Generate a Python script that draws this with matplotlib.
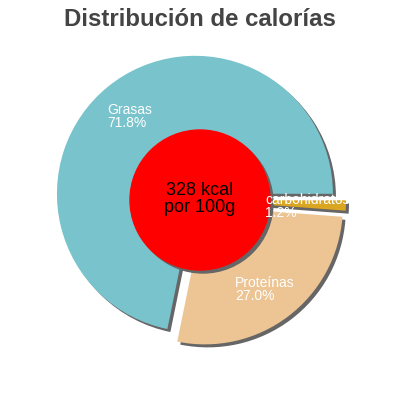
import matplotlib.pyplot as plt
from matplotlib.patches import Circle, Rectangle

plt.rcParams['font.family'] = ['Liberation Sans', 'DejaVu Sans']

# data
labels = ['Grasas', 'Proteínas', 'carbohidratos']
values = [71.8, 27.0, 1.2]
colors = ['#79c3cc', '#edc493', '#daa520']
kcal_text = '328 kcal\npor 100g'
title = 'Distribución de calorías'

fig = plt.figure(figsize=(4, 4), dpi=100)
ax = fig.add_axes([0, 0, 1, 1])

cx, cy = 200, 200
r = 138
explode = [8] * len(values)  # pie explode is in data units here

# shadow pie, shifted down-right
ax.pie(values, colors=['#666666'] * len(values), startangle=0, radius=r,
       center=(cx + 3, cy - 3), explode=explode, frame=True,
       wedgeprops={'linewidth': 0})
wedges, _ = ax.pie(values, colors=colors, startangle=0, radius=r,
                   center=(cx, cy), explode=explode, frame=True,
                   wedgeprops={'linewidth': 0})
ax.set_xlim(0, 400)
ax.set_ylim(0, 400)
ax.set_aspect('equal')
ax.axis('off')

# center circle
ax.add_patch(Circle((cx + 3, cy - 3), 70, color='#666666', zorder=3))
ax.add_patch(Circle((cx, cy), 70, color='#ff0000', zorder=4))
ax.text(cx, cy + 1, kcal_text, ha='center', va='center', fontsize=13,
        color='black', zorder=5, linespacing=1.0)

# slice labels
label_pos = {'Grasas': (107, 297), 'Proteínas': (235, 124), 'carbohidratos': (265, 207)}
clip = Rectangle((0, 0), 346, 400, transform=ax.transData)
for lab, val in zip(labels, values):
    x, y = label_pos[lab]
    t = ax.text(x, y, '%s\n%.1f%%' % (lab, val), ha='left', va='top',
                fontsize=10, color='white', zorder=6, linespacing=0.95)
    if lab == 'carbohidratos':
        t.set_clip_path(clip)

fig.text(0.5, 0.95, title, ha='center', va='center', fontsize=17.3,
         fontweight='bold', color='#444444')

fig.savefig('out.png', dpi=100)
